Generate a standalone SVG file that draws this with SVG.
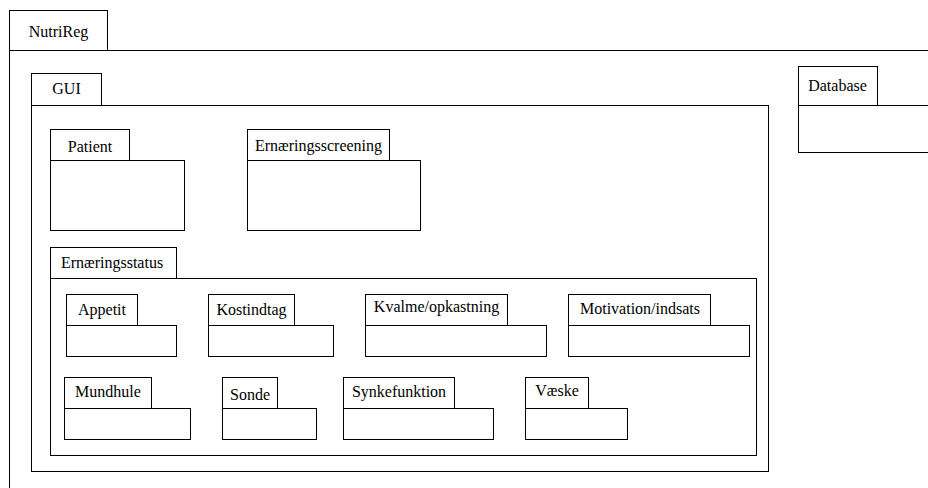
<svg xmlns="http://www.w3.org/2000/svg" width="928" height="488" viewBox="0 0 928 488">
<style>
rect{fill:#fff;stroke:#000;stroke-width:1}
text{fill:#000;text-anchor:middle}
</style>
<rect x="0" y="0" width="928" height="488" style="stroke:none"/>
<g font-family="Liberation Serif, DejaVu Serif, serif" font-size="16">
<g id="NutriReg">
<rect x="9.5" y="10.5" width="98" height="40"/>
<rect x="9.5" y="50.5" width="1000" height="500"/>
<text x="58.5" y="37">NutriReg</text>
</g>
<g id="Database">
<rect x="798.5" y="66.5" width="79" height="39"/>
<rect x="798.5" y="105.5" width="200" height="47"/>
<text x="837.5" y="91">Database</text>
</g>
<g id="GUI">
<rect x="31.5" y="73.5" width="70" height="32"/>
<rect x="31.5" y="105.5" width="737" height="366"/>
<text x="66.5" y="94">GUI</text>
</g>
<g id="Patient">
<rect x="50.5" y="129.5" width="79" height="31"/>
<rect x="50.5" y="160.5" width="134" height="70"/>
<text x="90" y="152">Patient</text>
</g>
<g id="Ernaeringsscreening">
<rect x="247.5" y="129.5" width="142" height="31"/>
<rect x="247.5" y="160.5" width="173" height="70"/>
<text x="318.5" y="151">Ernæringsscreening</text>
</g>
<g id="Ernaeringsstatus">
<rect x="50.5" y="247.5" width="126" height="31"/>
<rect x="50.5" y="278.5" width="706" height="177"/>
<text x="112" y="268">Ernæringsstatus</text>
</g>
<g id="Appetit">
<rect x="66.5" y="294.5" width="71" height="31"/>
<rect x="66.5" y="325.5" width="110" height="31"/>
<text x="102" y="315">Appetit</text>
</g>
<g id="Kostindtag">
<rect x="208.5" y="294.5" width="86" height="31"/>
<rect x="208.5" y="325.5" width="125" height="31"/>
<text x="251.5" y="315">Kostindtag</text>
</g>
<g id="Kvalme">
<rect x="365.5" y="294.5" width="142" height="31"/>
<rect x="365.5" y="325.5" width="181" height="31"/>
<text x="436.5" y="312">Kvalme/opkastning</text>
</g>
<g id="Motivation">
<rect x="568.5" y="294.5" width="142" height="31"/>
<rect x="568.5" y="325.5" width="181" height="31"/>
<text x="640" y="314">Motivation/indsats</text>
</g>
<g id="Mundhule">
<rect x="64.5" y="377.5" width="87" height="31"/>
<rect x="64.5" y="408.5" width="126" height="31"/>
<text x="108" y="397">Mundhule</text>
</g>
<g id="Sonde">
<rect x="222.5" y="377.5" width="55" height="31"/>
<rect x="222.5" y="408.5" width="94" height="31"/>
<text x="250" y="400">Sonde</text>
</g>
<g id="Synkefunktion">
<rect x="343.5" y="377.5" width="111" height="31"/>
<rect x="343.5" y="408.5" width="150" height="31"/>
<text x="399" y="397">Synkefunktion</text>
</g>
<g id="Vaeske">
<rect x="525.5" y="377.5" width="63" height="31"/>
<rect x="525.5" y="408.5" width="102" height="31"/>
<text x="557" y="396">Væske</text>
</g>
</g>
<g id="connectors"></g>
</svg>
